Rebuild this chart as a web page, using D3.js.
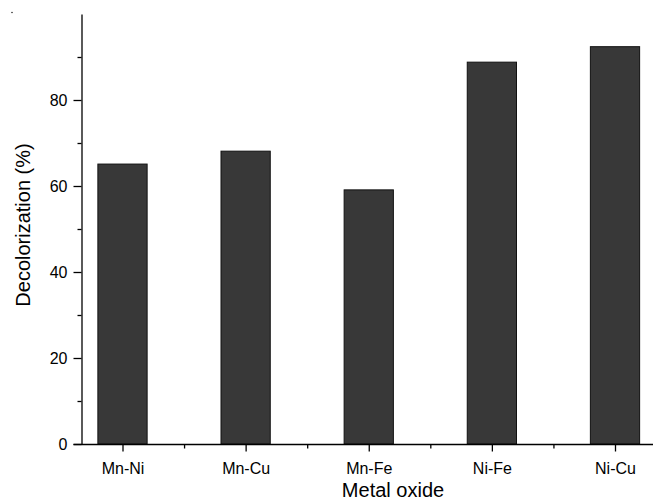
<!DOCTYPE html>
<html><head><meta charset="utf-8">
<script src="https://cdn.jsdelivr.net/npm/d3@7"></script>
<style>body{margin:0;background:#fff}svg{display:block}text{font-family:"Liberation Sans",Arial,sans-serif;fill:#000}</style>
</head><body>
<svg id="c" width="653" height="502"></svg>
<script>
const categories = ["Mn-Ni","Mn-Cu","Mn-Fe","Ni-Fe","Ni-Cu"];
const values = [65.1, 68.1, 59.1, 88.8, 92.4];
const yTicks = [0,20,40,60,80];
const yMinorTicks = [10,30,50,70,90];
const xTitle = "Metal oxide";
const yTitle = "Decolorization (%)";

const W = 653, H = 502;
const mLeft = 81.5, mTop = 14, mBottom = 444;
const svg = d3.select("#c");

const x = d3.scaleLinear().domain([1,5]).range([122.5,615]);
const y = d3.scaleLinear().domain([0,100]).range([mBottom, mTop]);
const bw = (x(2)-x(1))*0.4;

// bars
svg.append("g").selectAll("rect").data(values).join("rect")
  .attr("x",(d,i)=>x(i+1)-bw/2)
  .attr("y",d=>y(d))
  .attr("width",bw)
  .attr("height",d=>y(0)-y(d))
  .attr("fill","#383838").attr("stroke","#111").attr("stroke-width",1);

// y axis
const ya = svg.append("g").attr("transform",`translate(${mLeft},0)`)
  .call(d3.axisLeft(y).tickValues(yTicks).tickSize(8).tickSizeOuter(0).tickPadding(6));
ya.select(".domain").attr("stroke","#000").attr("stroke-width",1.3);
ya.selectAll(".tick line").attr("stroke","#000").attr("stroke-width",1.3);
ya.selectAll("text").style("font-size","16px").attr("dy","0.36em");
const yam = svg.append("g").attr("transform",`translate(${mLeft},0)`)
  .call(d3.axisLeft(y).tickValues(yMinorTicks).tickSize(4).tickFormat(""));
yam.select(".domain").remove();
yam.selectAll(".tick line").attr("stroke","#000").attr("stroke-width",1.3);

// x axis
const minorX = d3.range(1.5,5.5,1);
const xa = svg.append("g").attr("transform",`translate(0,${mBottom+0.5})`)
  .call(d3.axisBottom(x).tickValues([1,2,3,4,5]).tickSize(7).tickPadding(11).tickFormat(d=>categories[d-1]));
xa.select(".domain").remove();
xa.selectAll(".tick line").attr("stroke","#000").attr("stroke-width",1.3);
xa.selectAll("text").style("font-size","16px");
const xam = svg.append("g").attr("transform",`translate(0,${mBottom+0.5})`)
  .call(d3.axisBottom(x).tickValues(minorX).tickSize(4).tickFormat(""));
xam.select(".domain").remove();
xam.selectAll(".tick line").attr("stroke","#000").attr("stroke-width",1.3);
svg.append("line").attr("x1",mLeft-8).attr("x2",W).attr("y1",mBottom+0.5).attr("y2",mBottom+0.5)
  .attr("stroke","#000").attr("stroke-width",1.3);

// titles
svg.append("text").attr("x",393).attr("y",497).attr("text-anchor","middle")
  .style("font-size","20px").text(xTitle);
svg.append("text").attr("transform",`translate(30,225) rotate(-90)`).attr("text-anchor","middle")
  .style("font-size","20px").text(yTitle);
// small stray dot at top-left
svg.append("circle").attr("cx",12).attr("cy",12.5).attr("r",0.7).attr("fill","#000");
</script>
</body></html>
